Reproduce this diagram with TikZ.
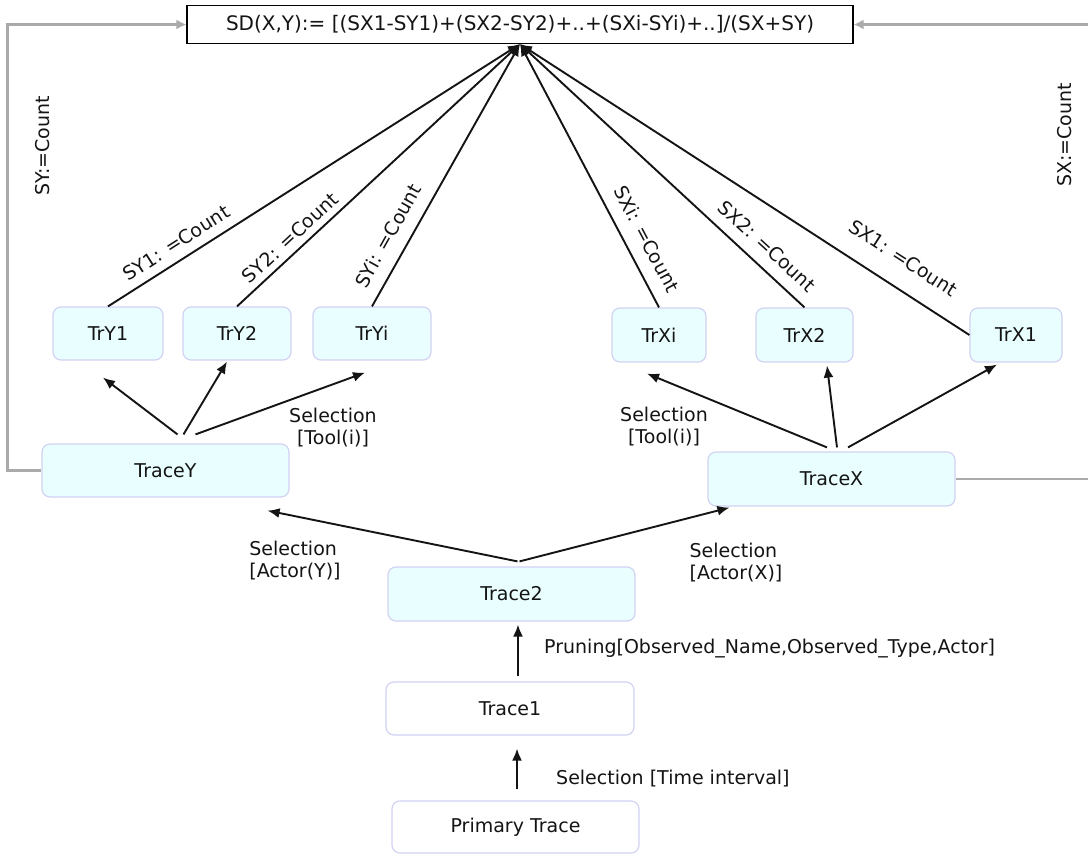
\documentclass[tikz,border=0pt]{standalone}
\usepackage{fontspec}
\setmainfont{DejaVu Sans}
\usetikzlibrary{arrows.meta,calc}
\definecolor{nodefill}{HTML}{E9FEFE}
\definecolor{nodeedge}{HTML}{D2D2F4}
\definecolor{grayline}{HTML}{AAAAAA}
\definecolor{txt}{HTML}{141414}
\begin{document}
\begin{tikzpicture}[x=1pt,y=-1pt,
  every node/.style={font=\fontsize{19}{22}\selectfont, text=txt},
  box/.style={draw=nodeedge, line width=1.2pt, rounded corners=8pt, fill=nodefill, inner sep=0pt},
  wbox/.style={box, fill=white},
  blk/.style={draw=black!92, line width=1.9pt, -{Latex[length=12pt,width=10pt]}},
  gry/.style={draw=grayline, line width=2.2pt, -{Latex[length=10pt,width=10pt]}},
  lbl/.style={inner sep=0pt}]
\useasboundingbox (0,0) rectangle (1088,855);
\fill[white] (0,0) rectangle (1088,855);

% formula
\node[draw=black, line width=1.1pt, fill=white, minimum width=666pt, minimum height=38pt, inner sep=0pt, font=\fontsize{20}{24}\selectfont] (F) at (520,24.5) {SD(X,Y):= [(SX1-SY1)+(SX2-SY2)+..+(SXi-SYi)+..]/(SX+SY)};

% leaf nodes
\node[box, minimum width=110pt, minimum height=53pt] (TrY1) at (108,333.5) {TrY1};
\node[box, minimum width=108pt, minimum height=53pt] (TrY2) at (237,333.5) {TrY2};
\node[box, minimum width=118pt, minimum height=53pt] (TrYi) at (372,333.5) {TrYi};
\node[box, minimum width=94pt, minimum height=54pt] (TrXi) at (659,335) {TrXi};
\node[box, minimum width=97pt, minimum height=54pt] (TrX2) at (804.5,335) {TrX2};
\node[box, minimum width=92pt, minimum height=54pt] (TrX1) at (1016,335) {TrX1};

% traces
\node[box, minimum width=247pt, minimum height=53pt] (TraceY) at (165.5,470.5) {TraceY};
\node[box, minimum width=247pt, minimum height=54pt] (TraceX) at (831.5,479) {TraceX};
\node[box, minimum width=247pt, minimum height=54pt] (Trace2) at (511.5,594) {Trace2};
\node[wbox, minimum width=248pt, minimum height=53pt] (Trace1) at (510,708.5) {Trace1};
\node[wbox, minimum width=247pt, minimum height=52pt] (Prim) at (515.5,827) {Primary Trace};

% lines to formula
\draw[blk] (TrY1.north) -- (F.south);
\draw[blk] (TrY2.north) -- (F.south);
\draw[blk] (TrYi.north) -- (F.south);
\draw[blk] (TrXi.north) -- (F.south);
\draw[blk] (TrX2.north) -- (F.south);
\draw[blk] (TrX1.west) -- (F.south);

% gray feedback connectors
\draw[gry] (TraceY.west) -- ++(-34,0) |- (F.west);
\draw[gry] (TraceX.east) -- ++(140,0) |- (F.east);

% tree arrows
\draw[blk] ($(TraceY.north)+(12,-9)$) -- ($(TrY1.south)+(-5,17)$);
\draw[blk] ($(TraceY.north)+(18,-9)$) -- ($(TrY2.south)+(-10,1)$);
\draw[blk] ($(TraceY.north)+(30,-9)$) -- ($(TrYi.south)+(-7,12)$);
\draw[blk] ($(TraceX.north)+(-4.5,-4)$) -- ($(TrXi.south)+(-12,11)$);
\draw[blk] ($(TraceX.north)+(5.5,-4)$) -- ($(TrX2.south)+(22.5,3)$);
\draw[blk] ($(TraceX.north)+(16.5,-4)$) -- ($(TrX1.south)+(-19,2)$);
\draw[blk] ($(Trace2.north)+(6,-5)$) -- ($(TraceY.south east)+(-22,13)$);
\draw[blk] ($(Trace2.north)+(8,-5)$) -- ($(TraceX.south west)+(22,1)$);
\draw[blk] ($(Trace1.north)+(8,-5)$) -- ($(Trace2.south)+(6.5,3)$);
\draw[blk] ($(Prim.north)+(1.5,-11)$) -- ($(Trace1.south)+(7,13)$);

% count labels
\node[lbl, rotate=32.5] (lY1) at (176,243) {SY1: =Count};
\node[lbl, rotate=42.9] (lY2) at (290,238) {SY2: =Count};
\node[lbl, rotate=60.7] (lYi) at (388,236) {SYi: =Count};
\node[lbl, rotate=-62.1] (lXi) at (647,239) {SXi: =Count};
\node[lbl, rotate=-42.6] (lX2) at (767,246) {SX2: =Count};
\node[lbl, rotate=-32.7] (lX1) at (903,258) {SX1: =Count};
\node[lbl, rotate=90] (lSY) at (42.5,146) {SY:=Count};
\node[lbl, rotate=90] (lSX) at (1065,135) {SX:=Count};

% selection labels
\node[lbl, align=center] (sTY) at (333,428) {Selection\\{}[Tool(i)]};
\node[lbl, align=center] (sTX) at (664,427) {Selection\\{}[Tool(i)]};
\node[lbl, align=left] (sAY) at (295,561) {Selection\\{}[Actor(Y)]};
\node[lbl, align=left] (sAX) at (736,563) {Selection\\{}[Actor(X)]};
\node[lbl, anchor=west] (pr) at (544,649) {Pruning[Observed\_Name,Observed\_Type,Actor]};
\node[lbl, anchor=west] (st) at (556,779) {Selection [Time interval]};
\end{tikzpicture}
\end{document}
